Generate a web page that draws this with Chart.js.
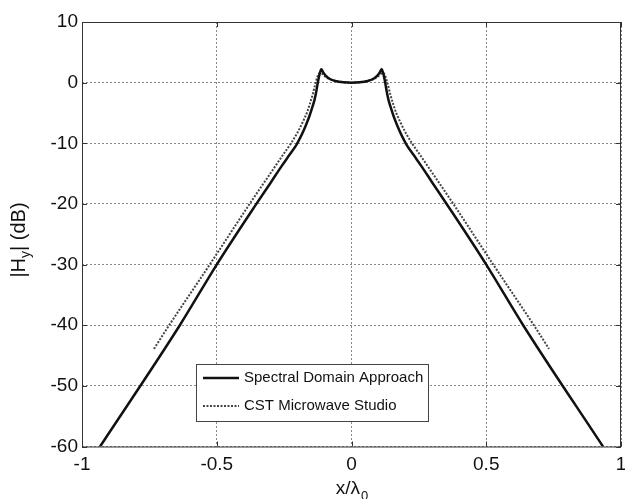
<!DOCTYPE html>
<html>
<head>
<meta charset="utf-8">
<script src="https://cdn.jsdelivr.net/npm/chart.js@4/dist/chart.umd.min.js"></script>
<style>
  body { margin: 0; background: #fff; }
  #wrap { width: 625px; height: 499px; }
</style>
</head>
<body>
<div id="wrap"><canvas id="fieldChart" width="625" height="499"></canvas></div>
<script>
// values
const sdaX = [-0.933, -0.637, -0.5, -0.353, -0.3, -0.26, -0.23, -0.205, -0.186, -0.17, -0.156, -0.145, -0.137, -0.13, -0.125, -0.119, -0.112,
  -0.105, -0.095, -0.08, -0.06, -0.03, 0, 0.03, 0.06, 0.08, 0.095, 0.105,
  0.112, 0.119, 0.125, 0.13, 0.137, 0.145, 0.156, 0.17, 0.186, 0.205, 0.23, 0.26, 0.3, 0.353, 0.5, 0.637, 0.933];
const sdaY = [-60, -40, -30, -20, -16.5, -13.8, -11.9, -10.3, -8.7, -7.1, -5.5, -4.0, -2.8, -1.3, 0, 1.3, 2.2,
  1.7, 1.1, 0.6, 0.28, 0.07, 0, 0.07, 0.28, 0.6, 1.1, 1.7,
  2.2, 1.3, 0, -1.3, -2.8, -4.0, -5.5, -7.1, -8.7, -10.3, -11.9, -13.8, -16.5, -20, -30, -40, -60];

const cstX = [-0.733, -0.681, -0.526, -0.378, -0.3, -0.254, -0.223, -0.2, -0.18, -0.165, -0.156, -0.145, -0.134, -0.126, -0.118,
  -0.11, -0.1, -0.085, -0.06, -0.03, 0, 0.03, 0.06, 0.085, 0.1, 0.11,
  0.118, 0.126, 0.134, 0.145, 0.156, 0.165, 0.18, 0.2, 0.223, 0.254, 0.3, 0.378, 0.526, 0.681, 0.733];
const cstY = [-43.9, -40.3, -30, -20, -14.9, -11.9, -9.9, -8.2, -6.4, -4.9, -3.7, -2.1, -0.2, 1.0, 1.6,
  1.5, 1.1, 0.65, 0.28, 0.07, 0, 0.07, 0.28, 0.65, 1.1, 1.5,
  1.6, 1.0, -0.2, -2.1, -3.7, -4.9, -6.4, -8.2, -9.9, -11.9, -14.9, -20, -30, -40.3, -43.9];

const xTicks = [-1, -0.5, 0, 0.5, 1];
const yTicks = [-60, -50, -40, -30, -20, -10, 0, 10];
const seriesNames = ['Spectral Domain Approach', 'CST Microwave Studio'];

const FONT = '"Liberation Sans", Arial, sans-serif';

function toPoints(xs, ys) {
  return xs.map((x, i) => ({ x: x, y: ys[i] }));
}

// box, inward ticks, axis titles with subscripts, legend
const matlabLook = {
  id: 'matlabLook',
  afterDraw(chart) {
    const { ctx, chartArea: a, scales } = chart;
    ctx.save();
    ctx.strokeStyle = '#333';
    ctx.lineWidth = 1;
    ctx.setLineDash([]);
    ctx.strokeRect(a.left + 0.5, a.top + 0.5, a.right - a.left - 1, a.bottom - a.top);

    // ticks pointing inward
    ctx.beginPath();
    xTicks.forEach(v => {
      const px = Math.round(scales.x.getPixelForValue(v)) + 0.5;
      ctx.moveTo(px, a.bottom); ctx.lineTo(px, a.bottom - 5);
      ctx.moveTo(px, a.top); ctx.lineTo(px, a.top + 5);
    });
    yTicks.forEach(v => {
      const py = Math.round(scales.y.getPixelForValue(v)) + 0.5;
      ctx.moveTo(a.left, py); ctx.lineTo(a.left + 5, py);
      ctx.moveTo(a.right, py); ctx.lineTo(a.right - 5, py);
    });
    ctx.stroke();

    ctx.fillStyle = '#111';
    // x title: x/λ0
    ctx.textBaseline = 'alphabetic';
    ctx.font = '19px ' + FONT;
    const main = 'x/\u03bb';
    const w1 = ctx.measureText(main).width;
    ctx.font = '13px ' + FONT;
    const w2 = ctx.measureText('0').width;
    const cx = (a.left + a.right) / 2;
    let sx = cx - (w1 + w2) / 2;
    ctx.font = '19px ' + FONT;
    ctx.textAlign = 'left';
    ctx.fillText(main, sx, 494);
    ctx.font = '13px ' + FONT;
    ctx.fillText('0', sx + w1 + 1, 500);

    // y title: |Hy| (dB)
    ctx.save();
    ctx.translate(25, 240);
    ctx.rotate(-Math.PI / 2);
    const parts = [['|H', 20, 0], ['y', 14, 5], ['| (dB)', 20, 0]];
    let total = 0;
    parts.forEach(p => { ctx.font = p[1] + 'px ' + FONT; total += ctx.measureText(p[0]).width; });
    let px = -total / 2;
    parts.forEach(p => {
      ctx.font = p[1] + 'px ' + FONT;
      ctx.fillText(p[0], px, p[2]);
      px += ctx.measureText(p[0]).width;
    });
    ctx.restore();

    // legend box
    const lx = 196, ly = 364, lw = 232, lh = 57;
    ctx.fillStyle = '#fff';
    ctx.fillRect(lx, ly, lw, lh);
    ctx.strokeStyle = '#444';
    ctx.lineWidth = 1;
    ctx.strokeRect(lx + 0.5, ly + 0.5, lw, lh);
    chart.data.datasets.forEach((ds, i) => {
      const rowY = ly + 14 + i * 28;
      ctx.strokeStyle = ds.borderColor;
      ctx.lineWidth = ds.borderWidth;
      ctx.setLineDash(ds.borderDash || []);
      ctx.beginPath();
      ctx.moveTo(203, rowY);
      ctx.lineTo(239, rowY);
      ctx.stroke();
      ctx.setLineDash([]);
      ctx.fillStyle = '#111';
      ctx.font = '15px ' + FONT;
      ctx.textBaseline = 'middle';
      ctx.fillText(ds.label, 244, rowY);
    });
    ctx.restore();
  }
};

const ctx = document.getElementById('fieldChart').getContext('2d');
const fieldChart = new Chart(ctx, {
  type: 'line',
  data: {
    datasets: [{
      label: seriesNames[0],
      data: toPoints(sdaX, sdaY),
      borderColor: '#111',
      borderWidth: 2.5,
      pointRadius: 0,
      cubicInterpolationMode: 'monotone',
      order: 1
    }, {
      label: seriesNames[1],
      data: toPoints(cstX, cstY),
      borderColor: '#444',
      borderWidth: 2,
      borderDash: [2, 1.5],
      pointRadius: 0,
      cubicInterpolationMode: 'monotone',
      order: 2
    }]
  },
  options: {
    responsive: false,
    animation: false,
    layout: { padding: { top: 22, right: 4, left: 0, bottom: 0 } },
    plugins: {
      legend: { display: false },
      tooltip: { enabled: false }
    },
    scales: {
      x: {
        type: 'linear',
        min: -1, max: 1,
        afterFit(s) { s.height = 52.5; s.paddingLeft = 0; s.paddingRight = 0; },
        afterBuildTicks(s) { s.ticks = xTicks.map(v => ({ value: v })); },
        grid: { color: '#888', lineWidth: 1, drawTicks: false },
        border: { display: false, dash: [2, 2] },
        ticks: {
          color: '#111',
          padding: 7,
          maxRotation: 0,
          font: { family: FONT, size: 19 },
          callback: v => String(v)
        }
      },
      y: {
        min: -60, max: 10,
        afterFit(s) { s.width = 82; s.paddingTop = 0; s.paddingBottom = 0; },
        afterBuildTicks(s) { s.ticks = yTicks.map(v => ({ value: v })); },
        grid: { color: '#888', lineWidth: 1, drawTicks: false },
        border: { display: false, dash: [2, 2] },
        ticks: {
          color: '#111',
          padding: 4,
          font: { family: FONT, size: 19 },
          callback: v => String(v)
        }
      }
    }
  },
  plugins: [matlabLook]
});
</script>
</body>
</html>
